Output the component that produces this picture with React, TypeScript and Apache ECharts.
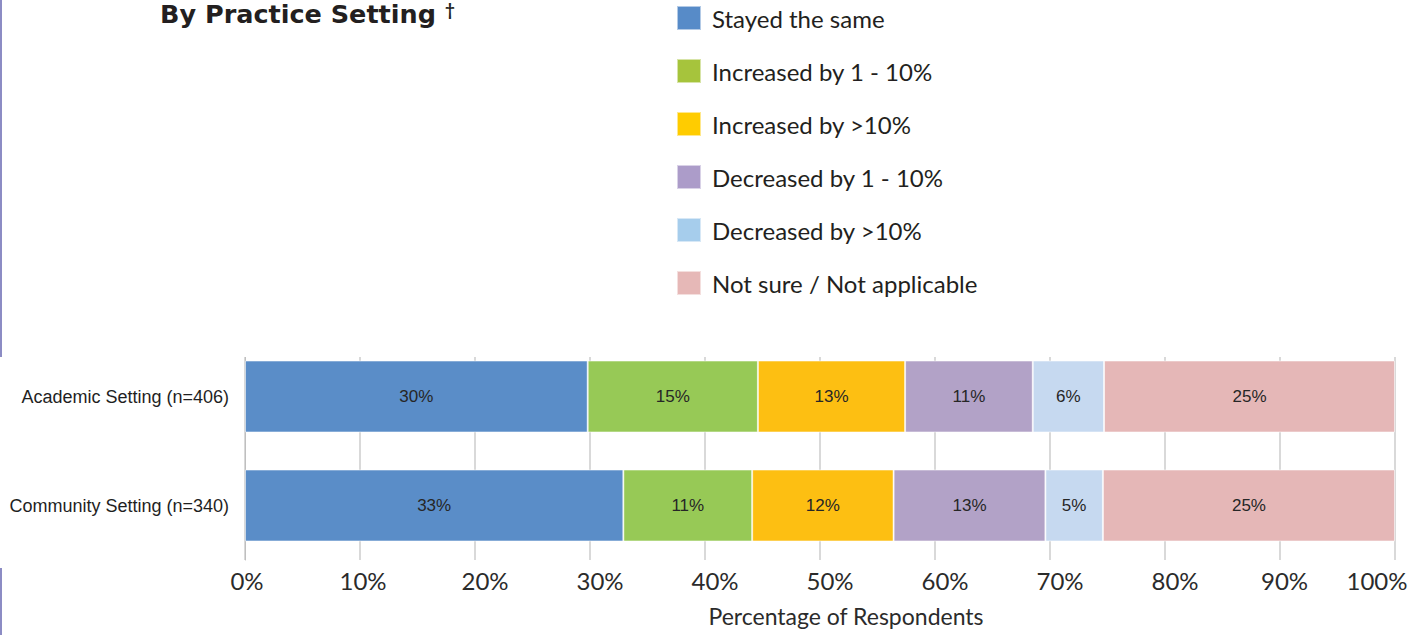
import React, { useEffect, useRef } from "react";
import * as echarts from "echarts";

const categories = ["Academic Setting (n=406)", "Community Setting (n=340)"];
const seriesNames = [
  "Stayed the same",
  "Increased by 1 - 10%",
  "Increased by >10%",
  "Decreased by 1 - 10%",
  "Decreased by >10%",
  "Not sure / Not applicable",
];
// values per series: [Academic, Community]
const stayedSame = [29.8, 32.9];
const increased1to10 = [14.8, 11.2];
const increasedOver10 = [12.8, 12.3];
const decreased1to10 = [11.1, 13.2];
const decreasedOver10 = [6.2, 5.0];
const notSure = [25.3, 25.4];

const barColors = ["#5a8dc8", "#97c956", "#fdbf12", "#b2a2c7", "#c6d9f0", "#e5b7b7"];
const legendColors = ["#578bc8", "#a6c43c", "#ffcc00", "#ac9cc9", "#a6cdec", "#e6b8b7"];

const seriesValues = [stayedSame, increased1to10, increasedOver10, decreased1to10, decreasedOver10, notSure];

const GEO = "Lato, 'Open Sans', sans-serif";
const ARIAL = "'Liberation Sans', Arial, sans-serif";

function tickStyleName(v: number): string {
  if (v === 0) return "s0";
  if (v === 10) return "s1";
  if (v === 90) return "s2";
  if (v === 100) return "s3";
  return "s4";
}

export default function App() {
  const ref = useRef<HTMLDivElement>(null);
  useEffect(() => {
    if (!ref.current) return;
    const chart = echarts.init(ref.current, undefined, { renderer: "svg" });
    const labelBase = { fontFamily: GEO, fontSize: 24, color: "#2b2b2b" };
    chart.setOption({
      animation: false,
      title: {
        text: "By Practice Setting",
        left: 160,
        top: 1,
        padding: 0,
        textStyle: { fontFamily: "'DejaVu Sans', sans-serif", fontWeight: "bold", fontSize: 25.5, color: "#231f20" },
      },
      legend: {
        orient: "vertical",
        left: 676,
        top: 5,
        padding: 0,
        itemWidth: 24,
        itemHeight: 24,
        itemGap: 27,
        icon: "rect",
        selectedMode: false,
        textStyle: {
          fontFamily: GEO,
          fontSize: 24,
          lineHeight: 24,
          color: "#231f20",
          padding: [0, 0, 0, 6],
        },
        data: seriesNames.map((n, i) => ({ name: n, itemStyle: { color: legendColors[i] } })),
      },
      grid: { left: 245, right: 25, top: 342, height: 218, containLabel: false },
      xAxis: {
        type: "value",
        min: 0,
        max: 100,
        interval: 10,
        axisLine: { show: false },
        axisTick: { show: false },
        splitLine: { lineStyle: { color: "#d9d9d9", width: 2 } },
        axisLabel: {
          margin: 8,
          formatter: (v: number) => `{${tickStyleName(v)}|${v}%}`,
          rich: {
            s0: { ...labelBase, padding: [0, 0, 0, 4] },
            s1: { ...labelBase, padding: [0, 0, 0, 6] },
            s2: { ...labelBase, padding: [0, 0, 0, 9] },
            s3: { ...labelBase, padding: [0, 36, 0, 0] },
            s4: { ...labelBase, padding: [0, 0, 0, 20] },
          },
        },
        name: "Percentage of Respondents",
        nameLocation: "middle",
        nameGap: 44,
        nameTextStyle: { fontFamily: GEO, fontSize: 23, color: "#2b2b2b", padding: [0, 0, 0, 52] },
      },
      yAxis: {
        type: "category",
        data: categories,
        inverse: true,
        axisLine: { lineStyle: { color: "#bfbfbf", width: 1 } },
        axisTick: { length: 5, lineStyle: { color: "#bfbfbf" } },
        axisLabel: { margin: 16, fontFamily: ARIAL, fontSize: 18, color: "#1f1f1f" },
      },
      graphic: [
        {
          type: "text",
          left: 445,
          top: 1,
          style: { text: "†", fontFamily: GEO, fontSize: 17, fontWeight: "bold", fill: "#231f20" },
        },
        {
          type: "rect",
          z: 100,
          shape: { x: 230, y: 338, width: 1180, height: 19 },
          style: { fill: "#ffffff" },
        },
        {
          type: "line",
          shape: { x1: 1, y1: 0, x2: 1, y2: 357 },
          style: { stroke: "#8c8cc4", lineWidth: 2 },
        },
        {
          type: "line",
          shape: { x1: 1, y1: 568, x2: 1, y2: 635 },
          style: { stroke: "#8c8cc4", lineWidth: 2 },
        },
      ],
      series: seriesNames.map((n, i) => ({
        name: n,
        type: "bar",
        stack: "total",
        barWidth: 72,
        data: seriesValues[i],
        itemStyle: { color: barColors[i], borderColor: "rgba(255,255,255,0.55)", borderWidth: 1 },
        label: {
          show: true,
          position: "inside",
          formatter: (p: any) => `${Math.round(p.value)}%`,
          fontFamily: ARIAL,
          fontSize: 17,
          color: "#262626",
        },
        emphasis: { disabled: true },
      })),
    });
    return () => chart.dispose();
  }, []);
  return (
    <div
      ref={ref}
      style={{ position: "absolute", left: 0, top: 0, width: 1420, height: 635, background: "#ffffff" }}
    />
  );
}
